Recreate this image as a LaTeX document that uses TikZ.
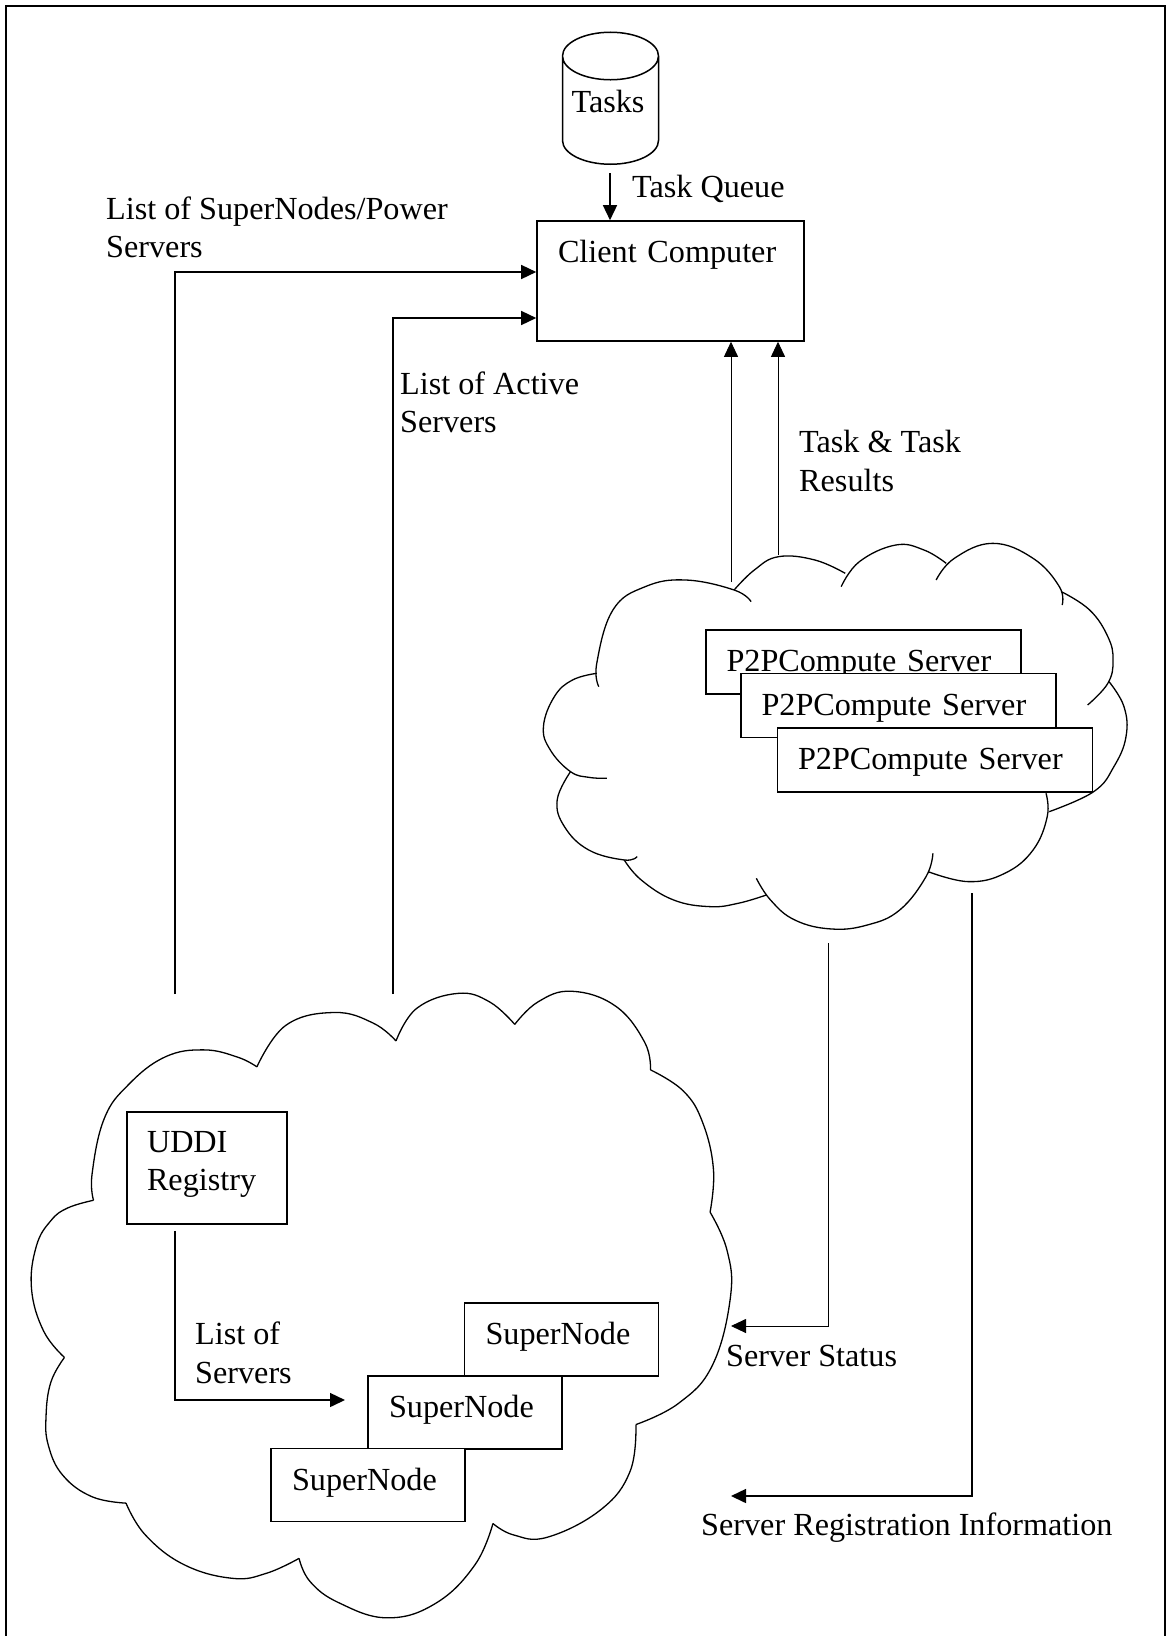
\documentclass[tikz,border=0pt]{standalone}
\usepackage{fontspec}
\setmainfont{Liberation Serif}
\usetikzlibrary{arrows.meta,shapes.geometric}
\tikzset{
	box/.style={draw,fill=white,line width=1.6pt,inner sep=0pt},
	srvbox/.style={box,minimum width=315pt,minimum height=64pt,text width=274pt,align=left,text height=27pt,text depth=8pt},
	nodebox/.style={box,minimum width=194pt,minimum height=73pt,text width=152pt,align=left,text height=21pt,text depth=10.4pt},
	txt/.style={inner sep=0pt,align=left,anchor=west},
	link/.style={line width=1.5pt,-{Triangle[length=15pt,width=14pt]}},
	thinlink/.style={link,line width=0.9pt},
	puff/.style={line width=1.3pt,smooth,tension=0.7}
}
\begin{document}
\begin{tikzpicture}[x=1pt,y=-1pt,font=\fontsize{32.2}{38.5}\selectfont]
	\useasboundingbox (0,0) rectangle (1170,1636);
	\draw[line width=1.8pt] (6,1636) -- (6,6) -- (1165,6) -- (1165,1636);

	% top part
	\node[cylinder,draw,shape border rotate=90,aspect=0.7,line width=1.5pt,minimum width=96pt,minimum height=132pt,inner sep=0pt,text depth=19pt] (tasks) at (610.5,110.5) {\hspace*{-5pt}Tasks};
	\node[box,minimum width=267pt,minimum height=120pt,text width=225pt,align=left,text height=22pt,text depth=60pt] (client) at (670.5,281) {Client Computer};
	\node[txt] (queue) at (632,189) {Task Queue};
	\coordinate (queuetop) at (610,173);
	\draw[link] (queuetop) -- (queuetop |- client.north);

	% second cloud
	\begin{scope}[shift={(520,530)},x=0.404pt,y=-0.3333pt]
		\draw[puff] plot coordinates {(530,180) (580,120) (640,80) (730,90) (805,130)};
		\draw[puff] plot coordinates {(795,170) (840,95) (930,45) (1000,60) (1055,100)};
		\draw[puff] plot coordinates {(1030,150) (1075,85) (1170,40) (1270,85) (1335,170) (1342,225)};
		\draw[puff] plot coordinates {(1340,185) (1410,240) (1455,320) (1468,390) (1455,460) (1405,525)};
		\draw[puff] plot coordinates {(1458,455) (1495,530) (1500,620) (1470,710) (1420,785) (1310,845)};
		\draw[puff] plot coordinates {(1302,790) (1305,860) (1270,960) (1200,1030) (1110,1055) (1010,1025)};
		\draw[puff] plot coordinates {(1022,970) (1005,1040) (940,1140) (860,1185) (770,1197) (680,1170) (620,1110) (585,1045)};
		\draw[puff] plot coordinates {(610,1095) (540,1120) (470,1130) (380,1110) (300,1050) (258,990)};
		\draw[puff] plot coordinates {(290,980) (258,990) (170,960) (110,890) (92,810) (125,725)};
		\draw[puff] plot coordinates {(215,745) (170,742) (125,725) (75,660) (58,590) (85,500) (130,450) (190,430)};
		\draw[puff] plot coordinates {(195,470) (190,400) (230,240) (310,170) (410,150) (530,180) (572,215)};
	\end{scope}
	\node[srvbox] (srva) at (863.5,662) {P2PCompute Server};
	\node[srvbox] (srvb) at (898.5,705.5) {P2PCompute Server};
	\node[srvbox] (srvc) at (935,760) {P2PCompute Server};

	% first cloud
	\begin{scope}[shift={(0,970)},x=0.4847pt,y=-0.4248pt]
		\draw[puff] plot coordinates {(530,228) (590,130) (690,100) (770,125) (817,167)};
		\draw[puff] plot coordinates {(817,167) (860,90) (945,55) (1010,75) (1062,128)};
		\draw[puff] plot coordinates {(1062,128) (1110,75) (1180,50) (1270,85) (1330,170) (1342,235)};
		\draw[puff] plot coordinates {(1342,235) (1410,285) (1450,360) (1472,470) (1465,570)};
		\draw[puff] plot coordinates {(1465,570) (1500,660) (1507,770) (1470,930) (1400,1020) (1312,1070)};
		\draw[puff] plot coordinates {(1312,1070) (1300,1180) (1240,1270) (1130,1335) (1060,1330) (1017,1303)};
		\draw[puff] plot coordinates {(1017,1303) (980,1400) (900,1490) (800,1525) (700,1490) (640,1440) (617,1385)};
		\draw[puff] plot coordinates {(617,1385) (550,1420) (480,1432) (380,1400) (300,1330) (260,1255)};
		\draw[puff] plot coordinates {(260,1255) (190,1240) (130,1190) (100,1120) (95,1050) (105,970) (133,912)};
		\draw[puff] plot coordinates {(133,912) (90,850) (65,750) (75,650) (105,590) (140,560) (193,542)};
		\draw[puff] plot coordinates {(193,542) (190,480) (215,350) (265,270) (340,205) (420,188) (490,205) (530,228)};
	\end{scope}
	\node[box,minimum width=160pt,minimum height=112pt,text width=120pt,align=left,text height=22pt,text depth=54pt] (uddi) at (207,1168) {UDDI\\Registry};
	\node[nodebox] (supa) at (561.5,1339.5) {SuperNode};
	\node[nodebox] (supb) at (465,1412.5) {SuperNode};
	\node[nodebox] (supc) at (368,1485) {SuperNode};

	% arrows
	\coordinate (listfoot) at (175,994);
	\coordinate (listin) at (client.west |- 0,272);
	\coordinate (activefoot) at (393,994);
	\coordinate (activein) at (client.west |- 0,318);
	\coordinate (uppera) at (731,582);
	\coordinate (upperb) at (778,555);
	\coordinate (regtip) at (345,1400);
	\coordinate (statustop) at (828,943);
	\coordinate (statustip) at (731,1326);
	\coordinate (infotop) at (972,893);
	\coordinate (infotip) at (731,1496);
	\draw[link] (listfoot) |- (listin);
	\draw[link] (activefoot) |- (activein);
	\draw[thinlink] (uppera) -- (uppera |- client.south);
	\draw[thinlink] (upperb) -- (upperb |- client.south);
	\draw[link] (uddi.south -| listfoot) ++(0,6) |- (regtip);
	\draw[thinlink] (statustop) |- (statustip);
	\draw[link] (infotop) |- (infotip);

	% labels
	\node[txt] (lista) at (106,227.5) {List of SuperNodes/Power\\Servers};
	\node[txt] (listb) at (400,402.5) {List of Active\\Servers};
	\node[txt] (results) at (799,461) {Task \& Task\\Results};
	\node[txt] (listc) at (195,1353) {List of\\Servers};
	\node[txt] (status) at (726,1356) {Server Status};
	\node[txt] (info) at (701,1528) {Server Registration Information};
\end{tikzpicture}
\end{document}
